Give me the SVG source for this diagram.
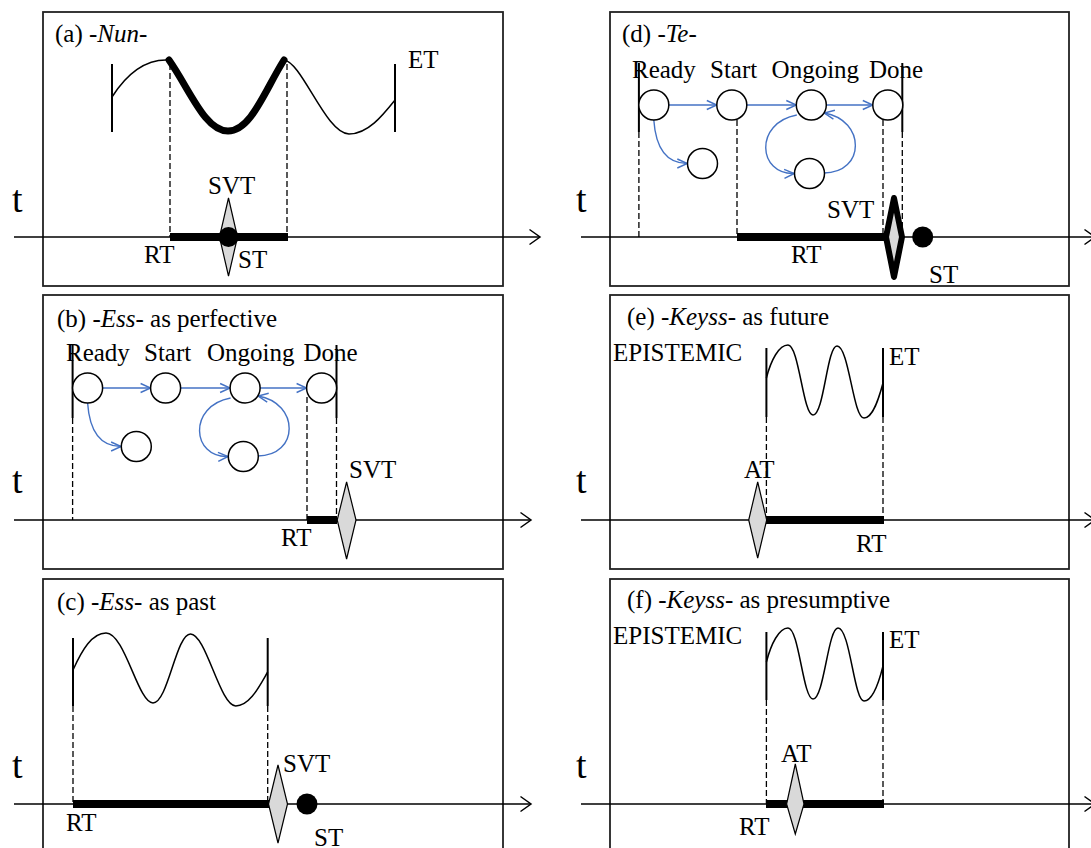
<svg xmlns="http://www.w3.org/2000/svg" width="1091" height="848" viewBox="0 0 1091 848">
<defs>
<marker id="ax" markerUnits="userSpaceOnUse" markerWidth="14" markerHeight="18" viewBox="-1 -9 14 18" refX="10.5" refY="0" orient="auto"><path d="M0,-7.5 L10.5,0 L0,7.5" fill="none" stroke="#000" stroke-width="1.5"/></marker>
<marker id="bl" markerUnits="userSpaceOnUse" markerWidth="13" markerHeight="12" viewBox="-1 -6 13 12" refX="10" refY="0" orient="auto"><path d="M0,-4.5 L10,0 L0,4.5" fill="none" stroke="#4472C4" stroke-width="1.4"/></marker>
</defs>
<style>
.box{fill:none;stroke:#222;stroke-width:1.8}
.lbl{font-family:"Liberation Serif","Times New Roman",serif;font-size:25px;fill:#000}
.tl{font-family:"Liberation Serif","Times New Roman",serif;font-size:38px;fill:#000}
.axis{stroke:#000;stroke-width:1.5;fill:none;marker-end:url(#ax)}
.wave{fill:none;stroke:#000;stroke-width:1.5}
.bnd{stroke:#000;stroke-width:2}
.dash{stroke:#000;stroke-width:1.3;stroke-dasharray:6 3}
.bar{stroke:#000;stroke-width:8}
.dia{fill:#d9d9d9;stroke:#000;stroke-width:1.2}
.diab{fill:#d9d9d9;stroke:#000;stroke-width:6;stroke-linejoin:round}
.dot{fill:#000}
.st{fill:#fff;stroke:#000;stroke-width:1.5}
.cn{fill:none;stroke:#4472C4;stroke-width:1.4;marker-end:url(#bl)}
</style>
<rect width="1091" height="848" fill="#fff"/>

<!-- Panel (a) -->
<g id="panel-a">
<rect class="box" x="43" y="12" width="460" height="274"/>
<text class="lbl" x="55" y="42">(a) -<tspan font-style="italic">Nun</tspan>-</text>
<text class="lbl" x="408" y="68">ET</text>
<line class="bnd" x1="112" y1="64" x2="112" y2="132"/>
<line class="bnd" x1="395" y1="64" x2="395" y2="132"/>
<path class="wave" d="M112,97 C128,72 145,60 166,60"/>
<path d="M169,60 C190,90 205,131 228,131 C251,131 265,90 284,60" fill="none" stroke="#000" stroke-width="7" stroke-linecap="round"/>
<path class="wave" d="M284,60 C302,62 326,134 349,134 C368,134 383,115 395,100"/>
<line class="dash" x1="170" y1="64" x2="170" y2="237"/>
<line class="dash" x1="287" y1="64" x2="287" y2="237"/>
<text class="tl" x="12" y="212">t</text>
<line class="axis" x1="14" y1="237" x2="540" y2="237"/>
<line class="bar" x1="170" y1="237" x2="288" y2="237"/>
<polygon class="dia" points="228.5,198 237.5,237 228.5,276 219.5,237"/>
<circle class="dot" cx="228.5" cy="237" r="10"/>
<text class="lbl" x="208" y="194">SVT</text>
<text class="lbl" x="238" y="268">ST</text>
<text class="lbl" x="144" y="263">RT</text>
</g>

<!-- Panel (b) -->
<g id="panel-b">
<rect class="box" x="43" y="295" width="460" height="274"/>
<text class="lbl" x="57" y="327">(b) -<tspan font-style="italic">Ess</tspan>- as perfective</text>
<line class="bnd" x1="72.6" y1="345" x2="72.6" y2="418"/>
<line class="bnd" x1="336.5" y1="345" x2="336.5" y2="418"/>
<line class="dash" x1="72.6" y1="418" x2="72.6" y2="520"/>
<line class="dash" x1="336.5" y1="418" x2="336.5" y2="520"/>
<line class="dash" x1="307" y1="397" x2="307" y2="520"/>
<text class="tl" x="12" y="493">t</text>
<line class="axis" x1="14" y1="520" x2="531" y2="520"/>
<line class="bar" x1="307" y1="520" x2="337" y2="520"/>
<polygon class="dia" points="346.6,482 356,520 346.6,559 337.2,520"/>
<text class="lbl" x="349" y="478">SVT</text>
<text class="lbl" x="281" y="546">RT</text>
</g>
<g id="sm-b-connectors" transform="translate(87.6,388)">
<path class="cn" d="M15,0 L63,0"/>
<path class="cn" d="M93,0 L142.5,0"/>
<path class="cn" d="M172.5,0 L219,0"/>
<path class="cn" d="M0,15 Q3,58.5 33.5,58.5"/>
<path class="cn" d="M143,10 C100,18 104,70 140.5,68.5"/>
<path class="cn" d="M170,68 C212,68 212,15 170.5,8"/>
</g>
<g id="sm-b-nodes" transform="translate(87.6,388)">
<g id="b-ready"><circle class="st" cx="0" cy="0" r="15"/><text class="lbl" x="-21.6" y="-27.5">Ready</text></g>
<g id="b-start"><circle class="st" cx="78" cy="0" r="15"/><text class="lbl" x="56.4" y="-27.5">Start</text></g>
<g id="b-ongoing"><circle class="st" cx="157.5" cy="0" r="15"/><text class="lbl" x="119.4" y="-27.5">Ongoing</text></g>
<g id="b-done"><circle class="st" cx="234" cy="0" r="15"/><text class="lbl" x="215.9" y="-27.5">Done</text></g>
<g id="b-side"><circle class="st" cx="48.7" cy="58.5" r="15"/></g>
<g id="b-loop"><circle class="st" cx="155.7" cy="68.5" r="15"/></g>
</g>

<!-- Panel (c) -->
<g id="panel-c">
<rect class="box" x="43" y="579" width="460" height="290"/>
<text class="lbl" x="57" y="610">(c) -<tspan font-style="italic">Ess</tspan>- as past</text>
<line class="bnd" x1="73" y1="638" x2="73" y2="706"/>
<line class="bnd" x1="267.7" y1="638" x2="267.7" y2="706"/>
<path class="wave" d="M73,670 C82,650 92,633 106,633 C125,633 138,703 153,703 C168,703 176,634 190.5,634 C206,634 220,706 235.7,706 C250,706 260,685 267.7,672"/>
<line class="dash" x1="73" y1="706" x2="73" y2="804"/>
<line class="dash" x1="267.7" y1="706" x2="267.7" y2="804"/>
<text class="tl" x="12" y="778">t</text>
<line class="axis" x1="14" y1="804" x2="531" y2="804"/>
<line class="bar" x1="73" y1="804" x2="269" y2="804"/>
<polygon class="dia" points="278,765 287.5,804 278,843 268.5,804"/>
<circle class="dot" cx="307" cy="804" r="10.5"/>
<text class="lbl" x="283" y="772">SVT</text>
<text class="lbl" x="66" y="831">RT</text>
<text class="lbl" x="314" y="846">ST</text>
</g>

<!-- Panel (d) -->
<g id="panel-d">
<rect class="box" x="610" y="12" width="459" height="274"/>
<text class="lbl" x="622" y="42">(d) -<tspan font-style="italic">Te</tspan>-</text>
<line class="bnd" x1="638.9" y1="63" x2="638.9" y2="132"/>
<line class="bnd" x1="902.3" y1="63" x2="902.3" y2="132"/>
<line class="dash" x1="638.9" y1="132" x2="638.9" y2="237"/>
<line class="dash" x1="902.3" y1="132" x2="902.3" y2="237"/>
<line class="dash" x1="737" y1="120" x2="737" y2="237"/>
<line class="dash" x1="883" y1="120" x2="883" y2="237"/>
<text class="tl" x="576" y="212">t</text>
<line class="axis" x1="581" y1="237" x2="1095" y2="237"/>
<line class="bar" x1="737" y1="237" x2="886" y2="237"/>
<polygon class="diab" points="894,198 902,237 894,277 886,237"/>
<circle class="dot" cx="922.7" cy="237" r="10.5"/>
<text class="lbl" x="827" y="218">SVT</text>
<text class="lbl" x="791" y="263">RT</text>
<text class="lbl" x="929" y="283">ST</text>
</g>
<g id="sm-d-connectors" transform="translate(653.8,105)">
<path class="cn" d="M15,0 L63,0"/>
<path class="cn" d="M93,0 L142.5,0"/>
<path class="cn" d="M172.5,0 L219,0"/>
<path class="cn" d="M0,15 Q3,58.5 33.5,58.5"/>
<path class="cn" d="M143,10 C100,18 104,70 140.5,68.5"/>
<path class="cn" d="M170,68 C212,68 212,15 170.5,8"/>
</g>
<g id="sm-d-nodes" transform="translate(653.8,105)">
<g id="d-ready"><circle class="st" cx="0" cy="0" r="15"/><text class="lbl" x="-21.8" y="-27">Ready</text></g>
<g id="d-start"><circle class="st" cx="78" cy="0" r="15"/><text class="lbl" x="56.2" y="-27">Start</text></g>
<g id="d-ongoing"><circle class="st" cx="157.5" cy="0" r="15"/><text class="lbl" x="117.8" y="-27">Ongoing</text></g>
<g id="d-done"><circle class="st" cx="234" cy="0" r="15"/><text class="lbl" x="215.2" y="-27">Done</text></g>
<g id="d-side"><circle class="st" cx="48.7" cy="58.5" r="15"/></g>
<g id="d-loop"><circle class="st" cx="155.7" cy="68.5" r="15"/></g>
</g>

<!-- Panel (e) -->
<g id="panel-e">
<rect class="box" x="610" y="295" width="459" height="274"/>
<text class="lbl" x="627" y="325">(e) -<tspan font-style="italic">Keyss</tspan>- as future</text>
<text class="lbl" x="613" y="361">EPISTEMIC</text>
<text class="lbl" x="889" y="365">ET</text>
<line class="bnd" x1="766.4" y1="348" x2="766.4" y2="417"/>
<line class="bnd" x1="883" y1="348" x2="883" y2="417"/>
<path class="wave" d="M766.4,378 C771,360 779,345 788,345 C799,345 803,415 813,415 C824,415 827,346 837,346 C849,346 853,418 864,418 C873,418 879,398 883,383"/>
<line class="dash" x1="766.4" y1="417" x2="766.4" y2="520"/>
<line class="dash" x1="883" y1="417" x2="883" y2="520"/>
<text class="tl" x="576" y="493">t</text>
<line class="axis" x1="581" y1="520" x2="1095" y2="520"/>
<line class="bar" x1="766" y1="520" x2="884" y2="520"/>
<polygon class="dia" points="757.7,482 766.7,520 757.7,558 748.7,520"/>
<text class="lbl" x="744" y="478">AT</text>
<text class="lbl" x="856" y="552">RT</text>
</g>

<!-- Panel (f) -->
<g id="panel-f">
<rect class="box" x="610" y="579" width="459" height="290"/>
<text class="lbl" x="627" y="608">(f) -<tspan font-style="italic">Keyss</tspan>- as presumptive</text>
<text class="lbl" x="613" y="644">EPISTEMIC</text>
<text class="lbl" x="889" y="648">ET</text>
<line class="bnd" x1="766.4" y1="632" x2="766.4" y2="700"/>
<line class="bnd" x1="883" y1="632" x2="883" y2="700"/>
<path class="wave" d="M766.4,662 C771,644 779,628 788,628 C799,628 803,699 813,699 C824,699 828,628 838,628 C850,628 854,701 864,701 C873,701 879,682 883,666"/>
<line class="dash" x1="766.4" y1="700" x2="766.4" y2="804"/>
<line class="dash" x1="883" y1="700" x2="883" y2="804"/>
<text class="tl" x="576" y="778">t</text>
<line class="axis" x1="581" y1="804" x2="1095" y2="804"/>
<line class="bar" x1="766" y1="804" x2="884" y2="804"/>
<polygon class="dia" points="795.3,764 804,804 795.3,834 786.6,804"/>
<text class="lbl" x="781" y="762">AT</text>
<text class="lbl" x="739" y="835">RT</text>
</g>
</svg>
